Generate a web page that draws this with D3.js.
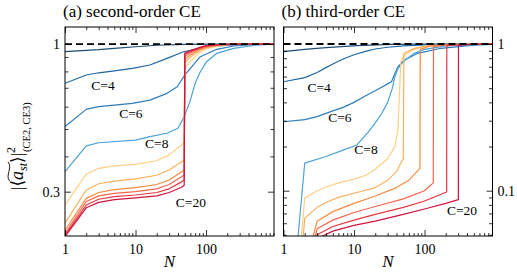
<!DOCTYPE html>
<html>
<head>
<meta charset="utf-8">
<script src="https://cdn.jsdelivr.net/npm/d3@7"></script>
<style>
  body { margin: 0; background: #fff; }
  svg { display: block; }
  text { font-family: "Liberation Serif", "DejaVu Serif", serif; fill: #000; }
</style>
</head>
<body>
<div id="chart"></div>
<script>
/* ── CE convergence, two log-log panels ───────────── */

// ── Data ────────────────────────────────────────────
const C_VALUES = [2, 4, 6, 8, 10, 12, 14, 16, 18, 20];
const COLORS = ["#1d4c76", "#1f67a5", "#2b7dbd", "#4aa2da", "#fdcf86", "#fdb05c",
                "#f98b3e", "#f3664d", "#e5353f", "#d0143f"];

const X_TICKS_MAJOR = [1, 10, 100];
const X_TICKS_MINOR = [2, 3, 4, 5, 6, 7, 8, 9, 20, 30, 40, 50, 60, 70, 80, 90,
                       200, 300, 400, 500, 600, 700, 800, 900];
const Y_TICKS_A = [0.3, 0.4, 0.5, 0.6, 0.7, 0.8, 0.9, 1];
const Y_LABELS_A = [1, 0.3];
const Y_TICKS_B = [0.05, 0.06, 0.07, 0.08, 0.09, 0.1, 0.2, 0.3, 0.4, 0.5, 0.6, 0.7, 0.8, 0.9, 1];
const Y_LABELS_B = [1, 0.1];

// (a) second-order CE — [N, value]
const a2  = [[1,0.94],[2,0.95],[3,0.955],[5,0.965],[10,0.978],[20,0.99],[50,0.997],[100,0.999],[900,1]];
const a4  = [[1,0.726],[2,0.777],[3,0.791],[5,0.804],[9,0.82],[16,0.843],[28,0.89],[48,0.939],[83,0.965],[142,0.984],[300,0.995],[900,1]];
const a6  = [[1,0.51],[2,0.587],[3,0.6],[5,0.608],[9,0.616],[16,0.633],[28,0.669],[39,0.706],[50,0.777],[83,0.902],[142,0.958],[246,0.984],[500,0.996],[900,1]];
const a8  = [[1,0.353],[2,0.436],[3,0.447],[10,0.457],[16,0.47],[28,0.483],[40,0.503],[49,0.553],[60,0.633],[70,0.726],[83,0.798],[102,0.866],[142,0.927],[246,0.965],[500,0.99],[900,1]];
const a10 = [[1,0.269],[2,0.346],[3,0.363],[5,0.37],[10,0.375],[20,0.386],[30,0.405],[45,0.439],[49,0.45],[50,0.82],[60,0.87],[80,0.93],[100,0.96],[150,0.985],[200,0.994],[400,0.999],[900,1]];
const a12 = [[1,0.232],[2,0.304],[3,0.32],[5,0.327],[10,0.333],[20,0.343],[30,0.358],[45,0.383],[49,0.39],[50,0.86],[60,0.9],[80,0.945],[100,0.97],[150,0.988],[200,0.995],[400,0.999],[900,1]];
const a14 = [[1,0.219],[2,0.284],[3,0.298],[5,0.305],[10,0.31],[20,0.318],[30,0.33],[45,0.353],[49,0.358],[50,0.885],[60,0.915],[80,0.955],[100,0.975],[150,0.99],[200,0.996],[400,0.999],[900,1]];
const a16 = [[1,0.213],[2,0.277],[3,0.29],[5,0.296],[10,0.3],[20,0.307],[30,0.318],[45,0.339],[49,0.344],[50,0.905],[60,0.93],[80,0.962],[100,0.98],[150,0.992],[200,0.997],[400,0.999],[900,1]];
const a18 = [[1,0.21],[2,0.269],[3,0.282],[5,0.288],[10,0.292],[20,0.298],[30,0.307],[45,0.325],[49,0.33],[50,0.92],[60,0.94],[80,0.968],[100,0.984],[150,0.994],[200,0.998],[400,1],[900,1]];
const a20 = [[1,0.208],[2,0.263],[3,0.275],[5,0.281],[10,0.285],[20,0.29],[30,0.298],[45,0.311],[49,0.316],[50,0.93],[60,0.948],[80,0.972],[100,0.987],[150,0.995],[200,0.998],[400,1],[900,1]];

// (b) third-order CE — [N, value]
const b2  = [[1,0.886],[2,0.92],[4,0.944],[11,0.974],[34,0.993],[100,0.998],[900,1]];
const b4  = [[1,0.553],[2,0.59],[3,0.64],[4,0.69],[5,0.73],[7,0.79],[10,0.845],[15,0.895],[20,0.925],[30,0.95],[50,0.97],[100,0.985],[200,0.993],[900,1]];
const b6  = [[1,0.295],[2,0.305],[3,0.32],[5,0.35],[7,0.37],[10,0.4],[14,0.438],[20,0.48],[25,0.51],[30,0.535],[34,0.553],[38,0.63],[42,0.7],[52,0.778],[80,0.864],[170,0.935],[500,0.984],[900,0.995]];
const b8  = [[1,0.004],[2,0.154],[4,0.171],[7,0.189],[11,0.205],[16,0.252],[20,0.29],[25,0.34],[30,0.4],[35,0.5],[38,0.6],[42,0.68],[50,0.76],[70,0.86],[100,0.92],[200,0.97],[900,1]];
const b10 = [[1,0.002],[2,0.089],[3,0.1],[4,0.106],[6,0.113],[10,0.12],[15,0.128],[20,0.14],[30,0.165],[38,0.2],[42,0.26],[46,0.75],[50,0.83],[70,0.92],[100,0.96],[200,0.99],[900,1]];
const b12 = [[1,0.001],[2,0.065],[3,0.077],[4,0.083],[6,0.09],[10,0.096],[20,0.105],[30,0.118],[40,0.135],[50,0.166],[51,0.864],[70,0.93],[100,0.965],[200,0.99],[900,1]];
const b14 = [[2,0.03],[3,0.062],[5,0.072],[10,0.082],[20,0.092],[40,0.105],[60,0.118],[86,0.142],[87,0.92],[120,0.97],[200,0.99],[900,1]];
const b16 = [[2,0.025],[3,0.055],[5,0.063],[10,0.071],[20,0.078],[50,0.088],[100,0.1],[133,0.113],[134,0.958],[200,0.985],[900,1]];
const b18 = [[2,0.022],[3,0.05],[5,0.057],[10,0.063],[20,0.069],[50,0.077],[100,0.085],[206,0.098],[207,0.974],[300,0.99],[900,1]];
const b20 = [[2,0.02],[3,0.047],[5,0.053],[10,0.058],[20,0.062],[50,0.069],[100,0.075],[200,0.082],[302,0.087],[303,0.984],[500,0.996],[900,1]];

const SERIES_A = [a2, a4, a6, a8, a10, a12, a14, a16, a18, a20];
const SERIES_B = [b2, b4, b6, b8, b10, b12, b14, b16, b18, b20];

// curve labels: [C, N, value] (text baseline)
const LABELS_A = [[4, 3.46, 0.69], [6, 8.6, 0.549], [8, 20, 0.427], [20, 61, 0.264]];
const LABELS_B = [[4, 3.2, 0.474], [6, 6.3, 0.292], [8, 14.8, 0.179], [20, 340, 0.0678]];

// ── Layout ──────────────────────────────────────────
const W = 517, H = 273;
const svg = d3.select("#chart").append("svg")
  .attr("width", W).attr("height", H)
  .attr("viewBox", `0 0 ${W} ${H}`);

const TOP = 27, BOTTOM = 236;
const SERIF = "Liberation Serif, DejaVu Serif, serif";

function panel(opts) {
  const { left, right, yDomain, series, yTicks, yLabels, labelSide, title, labels, id } = opts;
  const x = d3.scaleLog().domain([1, 920]).range([left, right]);
  const y = d3.scaleLog().domain(yDomain).range([BOTTOM, TOP]);

  const g = svg.append("g");

  svg.append("clipPath").attr("id", id)
    .append("rect").attr("x", left).attr("y", TOP)
    .attr("width", right - left).attr("height", BOTTOM - TOP);

  // curves
  const line = d3.line().x(d => x(d[0])).y(d => y(d[1]));
  g.append("g").attr("clip-path", `url(#${id})`)
    .selectAll("path").data(series).join("path")
    .attr("d", line)
    .attr("fill", "none")
    .attr("stroke", (d, i) => COLORS[i])
    .attr("stroke-width", 1.2)
    .attr("stroke-linejoin", "round");

  // dashed reference at 1
  g.append("line")
    .attr("x1", left).attr("x2", right)
    .attr("y1", y(1)).attr("y2", y(1))
    .attr("stroke", "#000").attr("stroke-width", 1.8)
    .attr("stroke-dasharray", "7,4");

  // ticks, all pointing inwards
  function drawAxis(axisFn, scale, transform, values, len, fmt) {
    const a = g.append("g").attr("transform", transform)
      .call(axisFn(scale).tickValues(values).tickSize(-len).tickPadding(5)
        .tickFormat(fmt || (() => "")));
    a.attr("font-family", SERIF);
    a.select(".domain").remove();
    a.selectAll(".tick line").attr("stroke", "#000").attr("stroke-width", 0.8);
    a.selectAll(".tick text").attr("font-size", 14).attr("fill", "#000");
    return a;
  }
  const fmtX = d => String(d);
  drawAxis(d3.axisBottom, x, `translate(0,${BOTTOM})`, X_TICKS_MAJOR, 6, fmtX)
    .selectAll(".tick text").attr("dy", "0.9em");
  drawAxis(d3.axisBottom, x, `translate(0,${BOTTOM})`, X_TICKS_MINOR, 3);
  drawAxis(d3.axisTop, x, `translate(0,${TOP})`, X_TICKS_MAJOR, 6);
  drawAxis(d3.axisTop, x, `translate(0,${TOP})`, X_TICKS_MINOR, 3);

  const yMinor = yTicks.filter(v => !yLabels.includes(v));
  const fmtY = d => String(d);
  drawAxis(d3.axisLeft, y, `translate(${left},0)`, yLabels, 6, labelSide === "left" ? fmtY : null);
  drawAxis(d3.axisLeft, y, `translate(${left},0)`, yMinor, 3.5);
  drawAxis(d3.axisRight, y, `translate(${right},0)`, yLabels, 6, labelSide === "right" ? fmtY : null);
  drawAxis(d3.axisRight, y, `translate(${right},0)`, yMinor, 3.5);

  // frame
  g.append("rect")
    .attr("x", left).attr("y", TOP)
    .attr("width", right - left).attr("height", BOTTOM - TOP)
    .attr("fill", "none").attr("stroke", "#000").attr("stroke-width", 1);

  // curve labels
  g.selectAll("text.clabel").data(labels).join("text")
    .attr("class", "clabel")
    .attr("x", d => x(d[1])).attr("y", d => y(d[2]))
    .attr("text-anchor", "middle")
    .attr("font-size", 13.5)
    .attr("fill", d => COLORS[C_VALUES.indexOf(d[0])])
    .text(d => `C=${d[0]}`);

  // x label
  g.append("text")
    .attr("x", (left + right) / 2).attr("y", 267)
    .attr("text-anchor", "middle")
    .attr("font-size", 17).attr("font-style", "italic")
    .text("N");

  // title
  g.append("text")
    .attr("x", left - 2).attr("y", 17)
    .attr("font-size", 17)
    .text(title);
}

panel({
  id: "clipA", left: 65, right: 274, yDomain: [0.209, 1.149],
  series: SERIES_A, yTicks: Y_TICKS_A, yLabels: Y_LABELS_A, labelSide: "left",
  title: "(a) second-order CE", labels: LABELS_A
});
panel({
  id: "clipB", left: 283.5, right: 492.5, yDomain: [0.0491, 1.306],
  series: SERIES_B, yTicks: Y_TICKS_B, yLabels: Y_LABELS_B, labelSide: "right",
  title: "(b) third-order CE", labels: LABELS_B
});

// ── Y label: |<ã_st>|^2_(CE2,CE3) ─────────────────────
const yl = svg.append("g").attr("transform", "translate(23,190) rotate(-90)");
let cx = 0;
function piece(txt, size, dy, italic) {
  const t = yl.append("text").attr("x", cx).attr("y", dy)
    .attr("font-size", size).attr("font-style", italic ? "italic" : "normal")
    .text(txt);
  const w = t.node().getComputedTextLength();
  cx += w;
  return { x: cx - w, w };
}
piece("|", 17, 0);
piece("\u27E8", 17, 0);
const aPos = piece("a", 18, 0, true);
const sPos = piece("st", 12, 3.5, true);
piece("\u27E9", 17, 0);
piece("|", 17, 0);
const supStart = cx;
piece("2", 12, -8);
cx = supStart + 1;
piece("(CE2, CE3)", 10.5, 7);
// wide tilde above a_st
const tx0 = aPos.x - 1, tx1 = sPos.x + sPos.w + 1, ty = -15;
yl.append("path")
  .attr("d", `M${tx0},${ty + 1.5} C${tx0 + (tx1 - tx0) * 0.3},${ty - 3} ${tx0 + (tx1 - tx0) * 0.7},${ty + 5} ${tx1},${ty}`)
  .attr("fill", "none").attr("stroke", "#000").attr("stroke-width", 0.9);
</script>
</body>
</html>
